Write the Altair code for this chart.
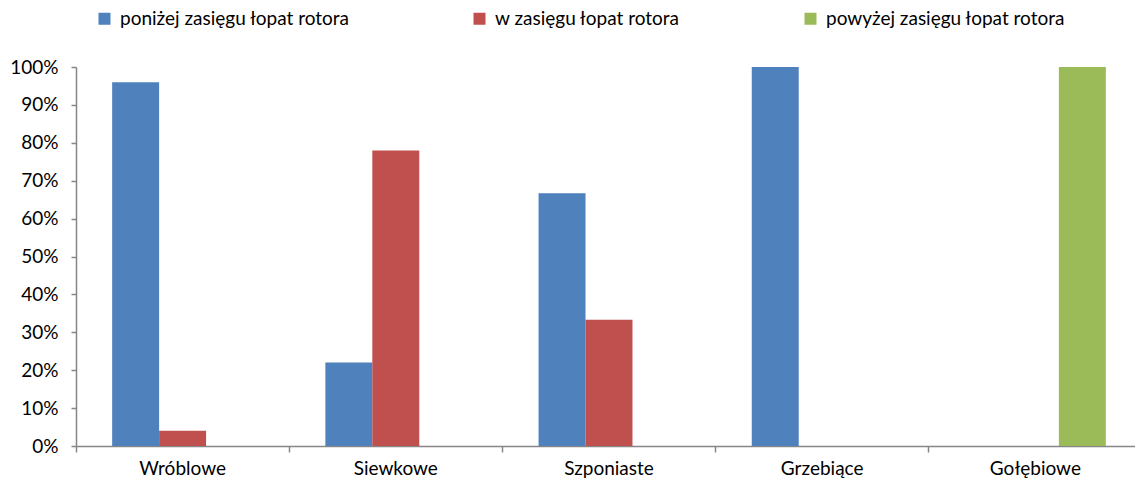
import altair as alt
import pandas as pd

# Bird groups and share of observations per flight-height zone
groups = ["Wróblowe", "Siewkowe", "Szponiaste", "Grzebiące", "Gołębiowe"]
zones = ["poniżej zasięgu łopat rotora", "w zasięgu łopat rotora", "powyżej zasięgu łopat rotora"]
below = [0.96, 0.22, 0.667, 1.00, 0.0]
within = [0.04, 0.78, 0.333, 0.0, 0.0]
above = [0.0, 0.0, 0.0, 0.0, 1.00]
colors = ["#4F81BD", "#C0504D", "#9BBB59"]

rows = []
for i, g in enumerate(groups):
    for zone, vals in zip(zones, [below, within, above]):
        rows.append({"grupa": g, "strefa": zone, "udział": vals[i]})
df = pd.DataFrame(rows)

FONT = "Lato"
FS = 19

chart = (
    alt.Chart(df)
    .mark_bar()
    .encode(
        x=alt.X(
            "grupa:N",
            sort=groups,
            title=None,
            # category axis runs slightly past the right edge of the canvas
            scale=alt.Scale(paddingInner=0, paddingOuter=0, range=[0, 1066]),
            axis=alt.Axis(
                labelAngle=0,
                bandPosition=0,
                domainColor="#868686",
                domainWidth=1.5,
                tickColor="#868686",
                tickWidth=1.5,
                tickSize=6,
                labelPadding=7,
                labelFontSize=FS,
                labelColor="#000000",
            ),
        ),
        xOffset=alt.XOffset(
            "strefa:N",
            sort=zones,
            scale=alt.Scale(paddingInner=0, paddingOuter=0.77),
        ),
        y=alt.Y(
            "udział:Q",
            title=None,
            scale=alt.Scale(domain=[0, 1], nice=False),
            axis=alt.Axis(
                format=".0%",
                values=[i / 10 for i in range(11)],
                grid=False,
                domainColor="#868686",
                domainWidth=1.5,
                tickColor="#868686",
                tickWidth=1.5,
                tickSize=5,
                labelPadding=13,
                labelFontSize=FS,
                labelColor="#000000",
            ),
        ),
        color=alt.Color(
            "strefa:N",
            sort=zones,
            scale=alt.Scale(domain=zones, range=colors),
            legend=alt.Legend(
                title=None,
                orient="none",
                direction="horizontal",
                legendX=19,
                legendY=-58,
                symbolType="square",
                symbolSize=144,
                symbolStrokeWidth=0,
                labelFontSize=FS,
                labelColor="#000000",
                labelOffset=6,
                labelLimit=500,
                columnPadding=120,
                columns=3,
            ),
        ),
    )
    .properties(
        width=1059,
        height=379,
        autosize=alt.AutoSizeParams(type="none"),
        padding={"left": 76, "top": 67, "right": 0, "bottom": 36},
    )
    .configure(font=FONT)
    .configure_view(strokeWidth=0, stroke="transparent")
    .configure_axis(labelFont=FONT)
    .configure_legend(labelFont=FONT)
)

chart.save("out.html", embed_options={"renderer": "svg", "actions": False})
